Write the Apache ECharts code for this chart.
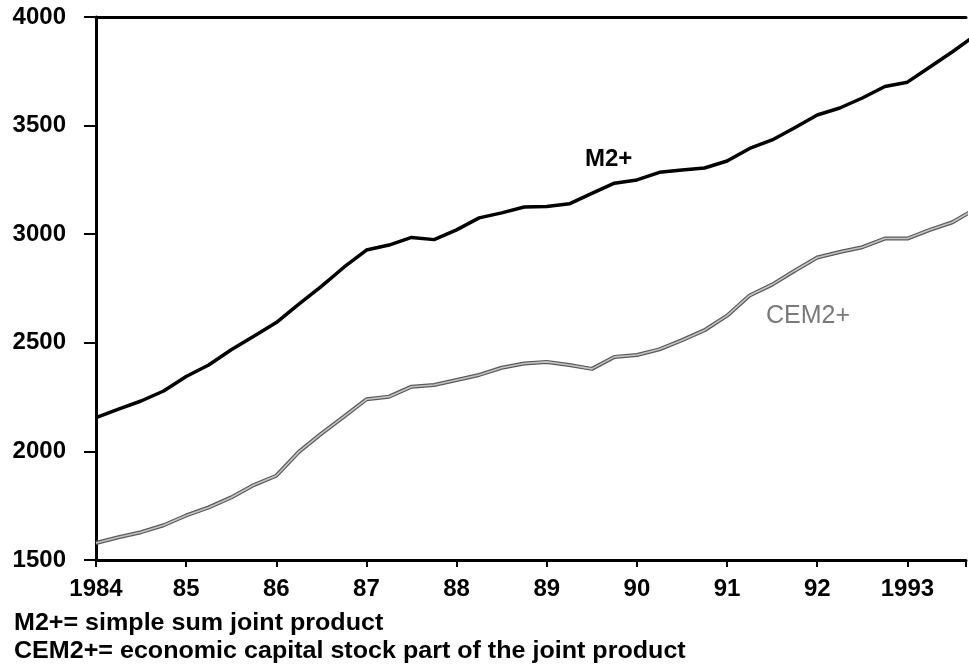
<!DOCTYPE html>
<html>
<head>
<meta charset="utf-8">
<script src="https://cdn.jsdelivr.net/npm/echarts@6/dist/echarts.min.js"></script>
<style>
html,body{margin:0;padding:0;background:#fff;}
#chart{width:969px;height:665px;}
</style>
</head>
<body>
<div id="chart"></div>
<script>
// Quarterly observations starting 1984 Q1
var startYear = 1984;
var m2plus = [2155,2195,2232,2278,2345,2398,2468,2530,2593,2678,
              2760,2848,2927,2950,2985,2975,3020,3075,3098,3125,
              3128,3140,3188,3235,3250,3285,3296,3305,3337,3395,
              3434,3490,3549,3581,3627,3680,3700,3770,3840,3915];
var cem2plus = [1578,1605,1628,1660,1705,1742,1788,1845,1888,1998,
                2082,2160,2240,2252,2298,2306,2329,2352,2385,2405,
                2412,2398,2380,2435,2444,2470,2512,2558,2625,2718,
                2768,2832,2893,2918,2940,2980,2980,3020,3055,3115];
var xTicks = [1984,1985,1986,1987,1988,1989,1990,1991,1992,1993];
var xTickLabels = ['1984','85','86','87','88','89','90','91','92','1993'];
var yTicks = [1500,2000,2500,3000,3500,4000];
var seriesNames = ['M2+','CEM2+'];
var notes = ['M2+= simple sum joint product','CEM2+= economic capital stock part of the joint product'];

function toPairs(arr){
  return arr.map(function(v,i){ return [startYear + i*0.25, v]; });
}

var chart = echarts.init(document.getElementById('chart'), null, {renderer:'canvas'});
var font = '"Liberation Sans", Arial, Helvetica, sans-serif';

var option = {
  animation:false,
  backgroundColor:'#fff',
  grid:{left:96, right:0, top:17, bottom:105, containLabel:false},
  xAxis:[{
    type:'value', min:1984, max:1993.65, interval:1,
    axisLine:{show:true, lineStyle:{color:'#000', width:3}},
    axisTick:{show:true, inside:false, length:7, lineStyle:{color:'#000', width:2}},
    axisLabel:{
      margin:17, color:'#000', fontFamily:font, fontWeight:'bold', fontSize:24,
      formatter:function(v){ var k = xTicks.indexOf(Math.round(v*100)/100); return k>=0 ? xTickLabels[k] : ''; }
    },
    splitLine:{show:false}
  },{
    type:'value', position:'top', min:1984, max:1993.65,
    axisLine:{show:true, onZero:false, lineStyle:{color:'#000', width:3}},
    axisTick:{show:false}, axisLabel:{show:false}, splitLine:{show:false}
  }],
  yAxis:{
    type:'value', min:yTicks[0], max:yTicks[yTicks.length-1], interval:500,
    axisLine:{show:true, lineStyle:{color:'#000', width:3}},
    axisTick:{show:true, inside:false, length:12, lineStyle:{color:'#000', width:2}},
    axisLabel:{margin:30, color:'#000', fontFamily:font, fontWeight:'bold', fontSize:24,
      formatter:function(v){ return String(v); }},
    splitLine:{show:false}
  },
  series:[
    {name:seriesNames[0], type:'line', data:toPairs(m2plus), showSymbol:false, clip:true,
     lineStyle:{color:'#000', width:3.5}, z:5},
    {name:seriesNames[1], type:'line', data:toPairs(cem2plus), showSymbol:false, clip:true,
     lineStyle:{color:'#5a5a5a', width:4}, z:3},
    {name:seriesNames[1]+' inner', type:'line', data:toPairs(cem2plus), showSymbol:false, clip:true,
     lineStyle:{color:'#c4c4c4', width:1.6}, z:4}
  ],
  graphic:[
    {type:'text', left:585, top:147, style:{text:seriesNames[0], fill:'#000', font:'bold 24px '+font}},
    {type:'text', left:766, top:304, style:{text:seriesNames[1], fill:'#7a7a7a', font:'25px '+font}},
    {type:'text', x:14, y:611, scaleX:1.045, style:{text:notes[0], fill:'#000', font:'bold 24px '+font}},
    {type:'text', x:14, y:639, scaleX:1.045, style:{text:notes[1], fill:'#000', font:'bold 24px '+font}}
  ]
};
chart.setOption(option);
</script>
</body>
</html>
